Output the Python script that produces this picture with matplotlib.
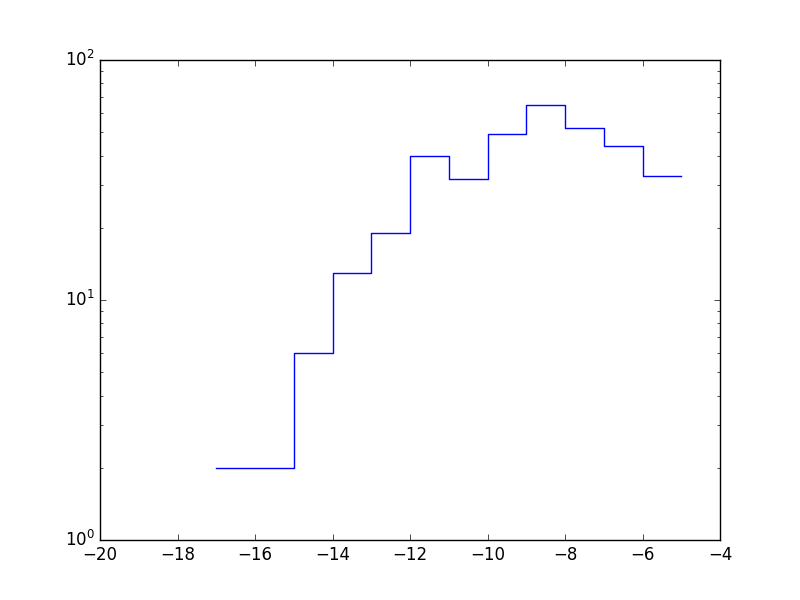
import numpy as np
import matplotlib
matplotlib.use("Agg")
import matplotlib.pyplot as plt

plt.style.use("classic")

# bin left edges and counts
edges = [-17, -16, -15, -14, -13, -12, -11, -10, -9, -8, -7, -6, -5]
counts = [2, 2, 6, 13, 19, 40, 32, 49, 65, 52, 44, 33]

fig = plt.figure(figsize=(8, 6), dpi=100)
ax = fig.add_subplot(111)

ax.plot(edges, counts + [counts[-1]], drawstyle="steps-post", color="b")
ax.set_yscale("log")
ax.set_xlim(-20, -4)
ax.set_ylim(1, 100)

fig.savefig("out.png", dpi=100)
